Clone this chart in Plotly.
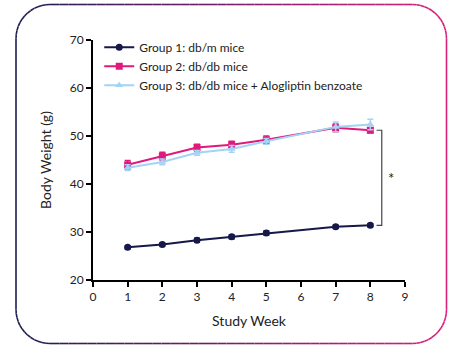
import plotly.graph_objects as go
import numpy as np

weeks = [1, 2, 3, 4, 5, 7, 8]
g1 = [26.8, 27.4, 28.3, 29.0, 29.8, 31.1, 31.4]
g1_err = [0.3, 0.3, 0.4, 0.4, 0.4, 0.3, 0.3]
g2 = [44.0, 45.8, 47.6, 48.2, 49.2, 51.7, 51.2]
g2_err = [0.9, 0.8, 0.7, 0.7, 0.8, 0.8, 0.5]
g3 = [43.4, 44.6, 46.5, 47.3, 48.9, 51.9, 52.4]
g3_err = [0.6, 0.6, 0.5, 0.7, 0.6, 1.0, 1.1]
names = ["Group 1: db/m mice", "Group 2: db/db mice", "Group 3: db/db mice + Alogliptin benzoate"]
x_ticks = list(range(0, 10))
y_ticks = [20, 30, 40, 50, 60, 70]

NAVY = "#16184a"
PINK = "#e2197c"
BLUE = "#a3d3f5"
FONT = "Lato, Open Sans, sans-serif"

W, H = 454, 346
ML, MR, MT, MB = 93, 49, 40, 66
PW = W - ML - MR
PH = H - MT - MB

fig = go.Figure()
for y, e, c, sym, nm in [(g1, g1_err, NAVY, "circle", names[0]),
                         (g2, g2_err, PINK, "square", names[1]),
                         (g3, g3_err, BLUE, "triangle-up", names[2])]:
    fig.add_trace(go.Scatter(
        x=weeks, y=y, name=nm, mode="lines+markers",
        line=dict(color=c, width=2),
        marker=dict(symbol=sym, size=7, color=c),
        error_y=dict(type="data", array=e, color=c, thickness=1.5, width=3),
    ))

# bracket between group 2 and group 1 at last week
bx = 8.33
tx = 8.18
shapes = [
    dict(type="path", xref="x", yref="y",
         path=f"M {tx},{g2[-1]} L {bx},{g2[-1]} L {bx},{g1[-1]} L {tx},{g1[-1]}",
         line=dict(color="#444444", width=1.2)),
]

# gradient rounded border
def px2paper(px, py):
    return (px - ML) / PW, (H - MB - py) / PH

L, R, T, B, r = 16, 446.5, 4.5, 343.5, 34
pts = []
def arc(cx, cy, a0, a1, n=14):
    for a in np.linspace(a0, a1, n):
        pts.append((cx + r * np.cos(a), cy + r * np.sin(a)))
arc(L + r, T + r, np.pi, 1.5 * np.pi)
for xx in np.linspace(L + r, R - r, 40)[1:-1]:
    pts.append((xx, T))
arc(R - r, T + r, 1.5 * np.pi, 2 * np.pi)
pts.append((R, B - r))
arc(R - r, B - r, 0, 0.5 * np.pi)
for xx in np.linspace(R - r, L + r, 40)[1:-1]:
    pts.append((xx, B))
arc(L + r, B - r, 0.5 * np.pi, np.pi)
pts.append((L, T + r))

c0 = np.array([0x1c, 0x1d, 0x52])
c1 = np.array([0xdc, 0x1f, 0x7b])
for i in range(len(pts) - 1):
    (xa, ya), (xb, yb) = pts[i], pts[i + 1]
    f = ((xa + xb) / 2 - L) / (R - L)
    col = c0 + (c1 - c0) * f
    colstr = "rgb(%d,%d,%d)" % tuple(col.astype(int))
    pa = px2paper(xa, ya)
    pb = px2paper(xb, yb)
    shapes.append(dict(type="line", xref="paper", yref="paper",
                       x0=pa[0], y0=pa[1], x1=pb[0], y1=pb[1],
                       line=dict(color=colstr, width=1.6), layer="above"))

fig.update_layout(
    width=W, height=H,
    margin=dict(l=ML, r=MR, t=MT, b=MB),
    paper_bgcolor="white", plot_bgcolor="white",
    font=dict(family=FONT, size=12, color="#222222"),
    shapes=shapes,
    showlegend=True,
    legend=dict(x=0.02, y=1.03, xanchor="left", yanchor="top",
                traceorder="normal", bgcolor="rgba(0,0,0,0)",
                font=dict(size=12, family=FONT, color="#222222"),
                tracegroupgap=0),
    annotations=[dict(x=8.59, y=(g1[-1] + g2[-1]) / 2, xref="x", yref="y",
                      text="*", showarrow=False, font=dict(size=15, color="#222222"))],
)
fig.update_xaxes(range=[0, 9], tickvals=x_ticks, showgrid=False, zeroline=False,
                 showline=True, linecolor="black", linewidth=2,
                 ticks="outside", ticklen=5, tickwidth=2, tickcolor="black",
                 tickfont=dict(size=12), title=dict(text="Study Week", font=dict(size=14), standoff=13))
fig.update_yaxes(range=[20, 70], tickvals=y_ticks, showgrid=False, zeroline=False,
                 showline=True, linecolor="black", linewidth=2,
                 ticks="outside", ticklen=5, tickwidth=2, tickcolor="black",
                 tickfont=dict(size=12), title=dict(text="Body Weight (g)", font=dict(size=14), standoff=15))

fig.write_html("out.html")
